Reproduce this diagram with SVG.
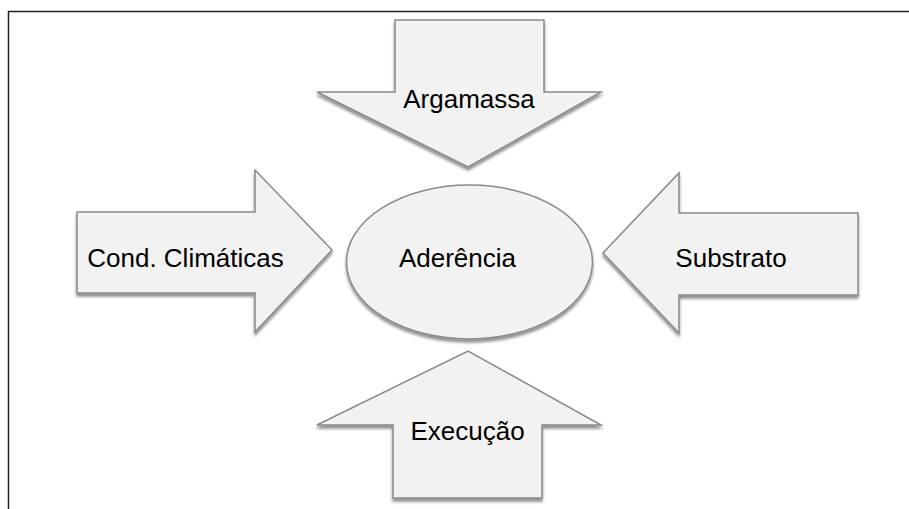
<svg xmlns="http://www.w3.org/2000/svg" width="909" height="509" viewBox="0 0 909 509">
<defs>
<style>
.shape{fill:#f2f2f2;stroke:#8a8a8a;stroke-width:1.5;filter:url(#sh)}
.lbl{font-family:"Liberation Sans",Arial,sans-serif;font-size:26px;fill:#000;text-anchor:middle}
</style>
<filter id="sh" x="-10%" y="-10%" width="130%" height="130%">
<feGaussianBlur in="SourceAlpha" stdDeviation="1.5"/>
<feOffset dx="0" dy="2.5" result="b"/>
<feComponentTransfer><feFuncA type="linear" slope="0.45"/></feComponentTransfer>
<feMerge><feMergeNode/><feMergeNode in="SourceGraphic"/></feMerge>
</filter>
</defs>
<rect width="909" height="509" fill="#fff"/>
<path d="M8.5,509 V11.5 H909" fill="none" stroke="#222" stroke-width="1.5"/>
<g id="argamassa">
<path class="shape" d="M395,20 H544 V92 H601 L468,167 L317,92 H395 Z"/>
<text class="lbl" x="469" y="108">Argamassa</text>
</g>
<g id="cond">
<path class="shape" d="M77,212 H255 V170 L332,250 L255,332 V293 H77 Z"/>
<text class="lbl" x="185.5" y="267">Cond. Climáticas</text>
</g>
<g id="substrato">
<path class="shape" d="M858,213 H679 V173 L603,253 L679,333 V295 H858 Z"/>
<text class="lbl" x="731" y="267">Substrato</text>
</g>
<g id="execucao">
<path class="shape" d="M393,498 H542 V425 H601 L468,351 L317,425 H393 Z"/>
<text class="lbl" x="467.5" y="440">Execução</text>
</g>
<g id="aderencia">
<ellipse class="shape" cx="469.5" cy="262" rx="123" ry="77"/>
<text class="lbl" x="457.5" y="267">Aderência</text>
</g>
<g id="connectors"></g>
</svg>
